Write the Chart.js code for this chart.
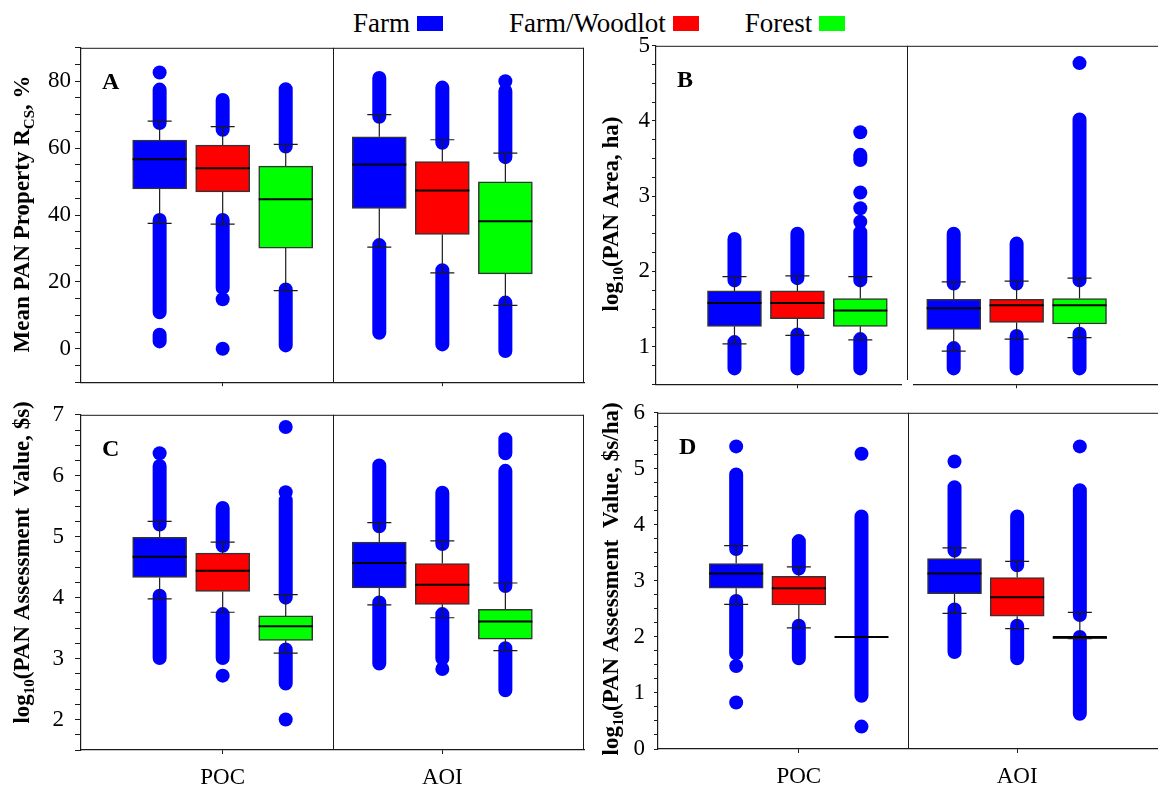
<!DOCTYPE html>
<html>
<head>
<meta charset="utf-8">
<script src="https://cdn.jsdelivr.net/npm/chart.js@4.4.1/dist/chart.umd.min.js"></script>
<style>
	html, body { margin: 0; padding: 0; background: #fff; }
	body { width: 1158px; height: 790px; position: relative; overflow: hidden; font-family: 'Liberation Serif', 'Times New Roman', serif; }
	canvas { position: absolute; }
	#legend { position: absolute; top: 8px; left: 353px; display: flex; align-items: center; font-size: 27px; line-height: 30px; color: #000; }
	.legend-item { display: flex; align-items: center; }
	.legend-swatch { display: inline-block; width: 26px; height: 15px; margin-left: 7px; }
</style>
</head>
<body>
<div id="legend"></div>
<canvas id="panel-a" width="590" height="370" style="left:0;top:30px"></canvas>
<canvas id="panel-b" width="568" height="370" style="left:590px;top:30px"></canvas>
<canvas id="panel-c" width="590" height="400" style="left:0;top:390px"></canvas>
<canvas id="panel-d" width="568" height="400" style="left:590px;top:390px"></canvas>
<script>
// categories and series
const groups = ['POC', 'AOI']
const seriesNames = ['Farm', 'Farm/Woodlot', 'Forest']

// every stat array below is ordered:
// POC Farm, POC Farm/Woodlot, POC Forest, AOI Farm, AOI Farm/Woodlot, AOI Forest

// A: mean PAN property R_CS (%)
const propLow = [37.5, 37.3, 17.4, 30.4, 22.7, 13.0]
const propQ1 = [47.8, 46.9, 30.1, 42.0, 34.2, 22.4]
const propMedian = [56.7, 54.0, 44.7, 55.1, 47.3, 38.1]
const propQ3 = [62.4, 60.9, 54.6, 63.4, 56.0, 49.9]
const propHigh = [68.1, 66.4, 61.1, 70.0, 62.5, 58.5]
// dense outlier columns as [from, to], single outliers as plain values
const propOutlierRuns = [
	[[67.5, 77.5], [10.9, 38.5], [2.2, 4.2]],
	[[65.5, 74.4], [18.2, 38.5]],
	[[60.5, 77.6], [1.0, 17.7]],
	[[69.4, 81.0], [4.8, 31.0]],
	[[61.6, 78.1], [1.3, 23.5]],
	[[57.3, 77.1], [-0.7, 13.8]],
]
const propOutliers = [[82.6], [14.8, 0], [], [], [], [80.0]]

// B: log10(PAN area, ha)
const areaLow = [1.035, 1.15, 1.09, 0.94, 1.1, 1.12]
const areaQ1 = [1.27, 1.37, 1.27, 1.23, 1.32, 1.3]
const areaMedian = [1.58, 1.58, 1.48, 1.51, 1.55, 1.55]
const areaQ3 = [1.74, 1.74, 1.64, 1.63, 1.63, 1.64]
const areaHigh = [1.93, 1.94, 1.93, 1.86, 1.87, 1.91]
const areaOutlierRuns = [
	[[1.88, 2.43], [0.71, 1.06]],
	[[1.91, 2.5], [0.71, 1.16]],
	[[1.88, 2.52], [3.48, 3.55], [0.71, 1.1]],
	[[1.84, 2.5], [0.71, 0.98]],
	[[1.84, 2.37], [0.71, 1.14]],
	[[1.88, 4.02], [0.71, 1.17]],
]
const areaOutliers = [[], [], [2.66, 2.84, 3.05, 3.85], [], [], [4.77]]

// C: log10(PAN assessment value, $s)
const valueLow = [3.98, 3.76, 3.09, 3.88, 3.67, 3.13]
const valueQ1 = [4.33, 4.1, 3.3, 4.16, 3.89, 3.32]
const valueMedian = [4.67, 4.44, 3.53, 4.57, 4.21, 3.61]
const valueQ3 = [4.99, 4.73, 3.7, 4.91, 4.56, 3.81]
const valueHigh = [5.25, 4.91, 4.05, 5.23, 4.93, 4.24]
const valueOutlierRuns = [
	[[5.2, 6.16], [3.01, 4.03]],
	[[4.85, 5.47], [3.01, 3.73]],
	[[4.0, 5.6], [2.59, 3.15]],
	[[5.17, 6.17], [2.92, 3.92]],
	[[4.88, 5.72], [3.0, 3.73]],
	[[4.19, 6.08], [6.37, 6.6], [2.48, 3.17]],
]
const valueOutliers = [[6.37], [2.72], [5.73, 6.8, 2.0], [], [2.83], []]

// D: log10(PAN assessment value, $s/ha)
const perHaLow = [2.58, 2.16, 2.0, 2.42, 2.15, 1.97]
const perHaQ1 = [2.87, 2.57, 2.0, 2.77, 2.37, 1.97]
const perHaMedian = [3.13, 2.87, 2.0, 3.13, 2.71, 2.0]
const perHaQ3 = [3.31, 3.08, 2.0, 3.4, 3.06, 2.0]
const perHaHigh = [3.63, 3.25, 2.0, 3.59, 3.35, 2.44]
const perHaOutlierRuns = [
	[[3.57, 4.9], [1.71, 2.64]],
	[[3.22, 3.71], [1.62, 2.2]],
	[[0.95, 4.15]],
	[[3.54, 4.67], [1.73, 2.49]],
	[[3.28, 4.15], [1.62, 2.2]],
	[[2.39, 4.62], [0.63, 2.0]],
]
const perHaOutliers = [[5.4, 1.48, 0.83], [], [5.27, 0.4], [5.13], [], [5.4]]

const seriesColors = ['#0000ff', '#ff0000', '#00ff00']
const outlierColor = '#0000ff'
const lineColor = '#1a1a1a'
const boxOffset = 0.287
const serif = "'Liberation Serif', 'Times New Roman', serif"

const boxX = (i) => Math.floor(i / 3) + ((i % 3) - 1) * boxOffset

const panelDecor = {
	id: 'panelDecor',
	beforeDatasetsDraw(chart, args, opts) {
		const { ctx, chartArea: a, scales } = chart
		ctx.save()
		ctx.strokeStyle = lineColor
		ctx.lineWidth = 1
		ctx.beginPath()
		const xd = Math.round(scales.x.getPixelForValue(0.5)) + 0.5
		ctx.moveTo(xd, a.top)
		ctx.lineTo(xd, a.bottom)
		ctx.moveTo(a.left, a.top + 0.5)
		ctx.lineTo(a.right, a.top + 0.5)
		if (opts.rightBorder) {
			ctx.moveTo(a.right - 0.5, a.top)
			ctx.lineTo(a.right - 0.5, a.bottom)
		}
		ctx.stroke()
		ctx.restore()
	},
	afterDraw(chart, args, opts) {
		const { ctx, chartArea: a, scales } = chart
		ctx.save()
		if (opts.axisGap) {
			// the original has a small break in the bottom axis under the divider
			const xd = scales.x.getPixelForValue(0.5)
			ctx.clearRect(xd - 5, a.bottom - 4, 11, 8)
		}
		ctx.fillStyle = '#000'
		ctx.font = `bold 24px ${serif}`
		ctx.textBaseline = 'alphabetic'
		ctx.fillText(opts.letter, a.left + 21, a.top + 41)

		// y title with subscripts
		const big = `bold 23px ${serif}`
		const small = `bold 15px ${serif}`
		let total = 0
		opts.title.forEach(([t, sub]) => {
			ctx.font = sub ? small : big
			total += ctx.measureText(t).width
		})
		ctx.translate(opts.titleX, (a.top + a.bottom) / 2 + opts.titleShift)
		ctx.rotate(-Math.PI / 2)
		let x = -total / 2
		opts.title.forEach(([t, sub]) => {
			ctx.font = sub ? small : big
			ctx.fillText(t, x, sub ? 5 : 0)
			x += ctx.measureText(t).width
		})
		ctx.restore()
	},
}

function buildChart(p) {
	const runData = []
	p.runs.forEach((list, i) => {
		list.forEach(([from, to]) => {
			runData.push({ x: boxX(i), y: from }, { x: boxX(i), y: to }, { x: boxX(i), y: null })
		})
	})
	const pointData = []
	p.points.forEach((list, i) => list.forEach((v) => pointData.push({ x: boxX(i), y: v })))
	const whiskerData = []
	const capData = []
	p.q1.forEach((_, i) => {
		whiskerData.push(
			{ x: boxX(i), y: p.q3[i] }, { x: boxX(i), y: p.high[i] }, { x: boxX(i), y: null },
			{ x: boxX(i), y: p.q1[i] }, { x: boxX(i), y: p.low[i] }, { x: boxX(i), y: null },
		)
		capData.push({ x: boxX(i), y: p.high[i] }, { x: boxX(i), y: p.low[i] })
	})

	const datasets = [
		{
			type: 'line', data: runData, order: 4,
			borderColor: outlierColor, borderWidth: 14, borderCapStyle: 'round',
			pointRadius: 0, spanGaps: false, tension: 0,
		},
		{
			type: 'scatter', data: pointData, order: 4,
			pointRadius: 7, backgroundColor: outlierColor, borderWidth: 0,
		},
		{
			type: 'line', data: whiskerData, order: 3,
			borderColor: lineColor, borderWidth: 1.2, pointRadius: 0, spanGaps: false, tension: 0,
		},
	]
	seriesNames.forEach((name, s) => {
		datasets.push({
			type: 'bar', label: name, order: 2, grouped: false,
			data: groups.map((g, gi) => ({ x: boxX(gi * 3 + s), y: [p.q1[gi * 3 + s], p.q3[gi * 3 + s]] })),
			backgroundColor: seriesColors[s], borderColor: '#333', borderWidth: 1.5,
			borderSkipped: false, barThickness: 54,
		})
	})
	datasets.push(
		{
			type: 'scatter', order: 1, data: capData,
			pointStyle: 'line', pointRadius: 12, borderColor: lineColor, borderWidth: 1.2,
		},
		{
			type: 'scatter', order: 0,
			data: p.median.map((v, i) => ({ x: boxX(i), y: v })),
			pointStyle: 'line', pointRadius: 27, borderColor: '#000', borderWidth: 2,
		},
	)

	const tickFont = { family: serif, size: 23 }
	new Chart(document.getElementById(p.id), {
		type: 'scatter',
		data: { datasets },
		options: {
			responsive: false,
			animation: false,
			events: [],
			layout: {
				autoPadding: false,
				padding: { top: p.padTop, right: p.padRight, left: 0, bottom: 0 },
			},
			plugins: {
				legend: { display: false },
				tooltip: { enabled: false },
				panelDecor: {
					letter: p.letter, title: p.title, titleX: p.titleX,
					titleShift: p.titleShift, rightBorder: p.rightBorder, axisGap: p.axisGap,
				},
			},
			scales: {
				x: {
					type: 'linear', min: -0.645, max: 1.645, offset: false,
					afterBuildTicks: (scale) => {
						scale.ticks = groups.map((_, i) => ({ value: i }))
					},
					afterFit: (scale) => { scale.height = p.xHeight },
					grid: { drawOnChartArea: false, tickLength: 4, color: lineColor, offset: false },
					border: { color: lineColor, width: 1.2 },
					ticks: {
						display: p.groupLabels, autoSkip: false, maxRotation: 0,
						callback: (v) => groups[v], font: tickFont, color: '#000', padding: 10,
					},
				},
				y: {
					type: 'linear', min: p.yMin, max: p.yMax,
					afterFit: (scale) => { scale.width = p.yWidth },
					grid: { drawOnChartArea: false, tickLength: p.yTickLength, color: lineColor },
					border: { color: lineColor, width: 1.2 },
					ticks: {
						stepSize: p.yStep, autoSkip: false, font: tickFont, color: '#000', padding: p.yPadding,
						callback: (v) => (Math.abs(v / p.yLabelEvery - Math.round(v / p.yLabelEvery)) < 1e-6 ? String(v) : ''),
					},
				},
			},
		},
		plugins: [panelDecor],
	})
}

const panels = [
	{
		id: 'panel-a', letter: 'A', low: propLow, q1: propQ1, median: propMedian, q3: propQ3, high: propHigh,
		runs: propOutlierRuns, points: propOutliers, yMin: -10, yMax: 90, yStep: 5, yLabelEvery: 20,
		title: [['Mean PAN Property R', false], ['CS', true], [', %', false]],
		yWidth: 81, xHeight: 11, padTop: 15, padRight: 6, groupLabels: false, rightBorder: true,
		titleX: 29, titleShift: -1, yTickLength: 6, yPadding: 4, axisGap: false,
	},
	{
		id: 'panel-b', letter: 'B', low: areaLow, q1: areaQ1, median: areaMedian, q3: areaQ3, high: areaHigh,
		runs: areaOutlierRuns, points: areaOutliers, yMin: 0.5, yMax: 5, yStep: 0.25, yLabelEvery: 1,
		title: [['log', false], ['10', true], ['(PAN Area, ha)', false]],
		yWidth: 66, xHeight: 11, padTop: 15, padRight: 0, groupLabels: false, rightBorder: false,
		titleX: 28, titleShift: -1, yTickLength: 4, yPadding: 2, axisGap: true,
	},
	{
		id: 'panel-c', letter: 'C', low: valueLow, q1: valueQ1, median: valueMedian, q3: valueQ3, high: valueHigh,
		runs: valueOutlierRuns, points: valueOutliers, yMin: 1.5, yMax: 7, yStep: 0.25, yLabelEvery: 1,
		title: [['log', false], ['10', true], ['(PAN Assessment  Value, $s)', false]],
		yWidth: 81, xHeight: 40, padTop: 16, padRight: 6, groupLabels: true, rightBorder: true,
		titleX: 29, titleShift: -20, yTickLength: 6, yPadding: 11, axisGap: false,
	},
	{
		id: 'panel-d', letter: 'D', low: perHaLow, q1: perHaQ1, median: perHaMedian, q3: perHaQ3, high: perHaHigh,
		runs: perHaOutlierRuns, points: perHaOutliers, yMin: 0, yMax: 6, yStep: 0.25, yLabelEvery: 1,
		title: [['log', false], ['10', true], ['(PAN Assessment  Value, $s/ha)', false]],
		yWidth: 68, xHeight: 41, padTop: 16, padRight: 0, groupLabels: true, rightBorder: false,
		titleX: 28, titleShift: -2, yTickLength: 4, yPadding: 9, axisGap: false,
	},
]

const legend = document.getElementById('legend')
const legendGaps = [66, 46, 0]
seriesNames.forEach((name, s) => {
	const item = document.createElement('span')
	item.className = 'legend-item'
	item.style.marginRight = legendGaps[s] + 'px'
	item.innerHTML = `<span>${name}</span><span class="legend-swatch" style="background:${seriesColors[s]}"></span>`
	legend.appendChild(item)
})

panels.forEach(buildChart)
</script>
</body>
</html>
